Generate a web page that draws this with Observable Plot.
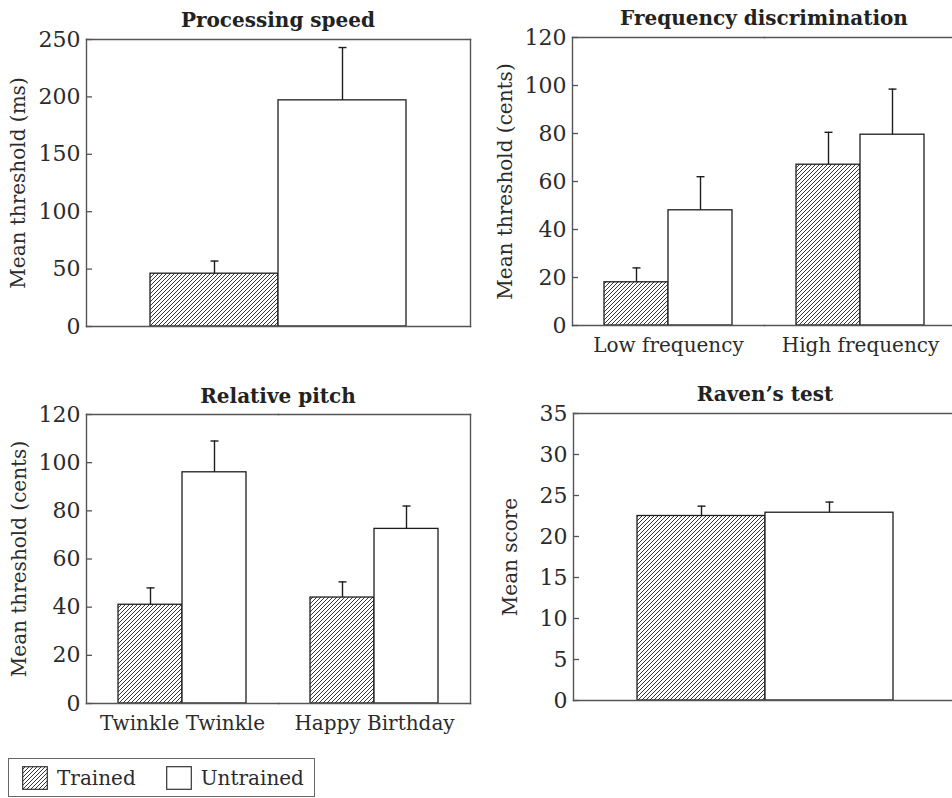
<!DOCTYPE html>
<html><head><meta charset="utf-8">
<script src="https://cdn.jsdelivr.net/npm/d3@7"></script>
<script src="https://cdn.jsdelivr.net/npm/@observablehq/plot@0.6"></script>
<style>
html,body{margin:0;padding:0;background:#fff;}
#chart{position:relative;width:952px;height:798px;overflow:hidden;background:#fff;font-family:"DejaVu Serif",serif;color:#2b2b2b;}
.panel{position:absolute;}
.panel svg{display:block;overflow:visible;max-width:none !important;}
.title{position:absolute;font-weight:bold;font-size:20px;line-height:20px;text-align:center;white-space:nowrap;color:#222;}
#legend{position:absolute;left:8px;top:758px;width:307px;height:39px;box-sizing:border-box;border:1.4px solid #666;display:flex;align-items:center;padding-left:13px;font-size:20px;}
#legend .item{display:flex;align-items:center;margin-right:30px;}
#legend svg{display:block;margin-right:9px;}
</style></head>
<body>
<svg width="0" height="0" style="position:absolute">
  <defs>
    <pattern id="hatch" patternUnits="userSpaceOnUse" width="4" height="4">
      <rect width="4" height="4" fill="#fff"></rect>
      <path d="M-1,1 l2,-2 M0,4 l4,-4 M3,5 l2,-2" stroke="#222" stroke-width="0.9"></path>
    </pattern>
  </defs>
</svg>
<div id="chart"></div>
<script>
// ---- data ----
const conditions = ["Trained", "Untrained"];

const speedGroups = ["Processing speed"];
const speedTrainedMean = [46];
const speedTrainedSE = [11];
const speedUntrainedMean = [197];
const speedUntrainedSE = [46];

const freqGroups = ["Low frequency", "High frequency"];
const freqTrainedMean = [18, 67];
const freqTrainedSE = [6, 13.5];
const freqUntrainedMean = [48, 79.5];
const freqUntrainedSE = [14, 19];

const pitchGroups = ["Twinkle Twinkle", "Happy Birthday"];
const pitchTrainedMean = [41, 44];
const pitchTrainedSE = [7, 6.5];
const pitchUntrainedMean = [96, 72.5];
const pitchUntrainedSE = [13, 9.5];

const ravenGroups = ["Raven’s test"];
const ravenTrainedMean = [22.5];
const ravenTrainedSE = [1.2];
const ravenUntrainedMean = [22.9];
const ravenUntrainedSE = [1.3];

const titles = ["Processing speed", "Frequency discrimination", "Relative pitch", "Raven’s test"];
const yLabels = ["Mean threshold (ms)", "Mean threshold (cents)", "Mean threshold (cents)", "Mean score"];
const yTicks250 = [0, 50, 100, 150, 200, 250];
const yTicks120 = [0, 20, 40, 60, 80, 100, 120];
const yTicks35 = [0, 5, 10, 15, 20, 25, 30, 35];

const fillRange = ["url(#hatch)", "#fff"];

const capSymbol = {
  draw(context, size) {
    const h = Math.sqrt(size / Math.PI);
    context.moveTo(-h, 0);
    context.lineTo(h, 0);
  }
};

function buildRows(groups, tm, ts, um, us) {
  return groups.flatMap((g, i) => [
    {group: g, condition: conditions[0], mean: tm[i], se: ts[i]},
    {group: g, condition: conditions[1], mean: um[i], se: us[i]}
  ]);
}

function panel(cfg) {
  const rows = buildRows(cfg.groups, cfg.tm, cfg.ts, cfg.um, cfg.us);
  const yTicks = cfg.ticks;
  const marks = [
    Plot.barY(rows, {fx: "group", x: "condition", y: "mean", fill: "condition", stroke: "#1e1e1e", strokeWidth: 1.3}),
    Plot.ruleX(rows, {fx: "group", x: "condition", y1: "mean", y2: d => d.mean + d.se, stroke: "#1e1e1e", strokeWidth: 1.4}),
    Plot.dot(rows, {fx: "group", x: "condition", y: d => d.mean + d.se, symbol: capSymbol, r: 4, stroke: "#1e1e1e", strokeWidth: 1.4, fill: "none"}),
    Plot.frame({anchor: "top", stroke: "#555", strokeWidth: 1.4}),
    Plot.frame({anchor: "bottom", stroke: "#555", strokeWidth: 1.4}),
    Plot.frame({anchor: "left", facetAnchor: "left", stroke: "#555", strokeWidth: 1.4}),
    Plot.frame({anchor: "right", facetAnchor: "right", stroke: "#555", strokeWidth: 1.4}),
    Plot.axisY({ticks: yTicks, tickSize: -6, tickPadding: 12, label: null, fontSize: 22, stroke: "#555", strokeWidth: 1.3, color: "#2b2b2b"}),
    Plot.axisY({ticks: [], tickSize: 0, label: cfg.yLabel, labelArrow: "none", labelAnchor: "center", labelOffset: cfg.labelOffset, fontSize: 20, color: "#2b2b2b"})
  ];
  if (cfg.showGroups) {
    marks.push(Plot.axisFx({anchor: "bottom", tickSize: 0, tickPadding: 12, label: null, fontSize: 20, color: "#2b2b2b"}));
  }
  const svg = Plot.plot({
    width: cfg.width, height: cfg.height,
    marginLeft: cfg.ml, marginRight: cfg.mr, marginTop: cfg.mt, marginBottom: cfg.mb,
    style: {fontFamily: "DejaVu Serif", background: "transparent", overflow: "visible", color: "#2b2b2b", maxWidth: "none"},
    fx: {domain: cfg.groups, padding: 0, axis: null, label: null},
    x: {domain: conditions, paddingInner: 0, paddingOuter: 0.5, axis: null},
    y: {domain: [0, yTicks[yTicks.length - 1]], axis: null},
    color: {domain: conditions, range: fillRange},
    marks
  });
  const div = document.createElement("div");
  div.className = "panel";
  div.style.left = cfg.left + "px";
  div.style.top = cfg.top + "px";
  div.style.width = cfg.width + "px";
  div.appendChild(svg);
  const t = document.createElement("div");
  t.className = "title";
  t.textContent = cfg.title;
  t.style.left = cfg.ml + "px";
  t.style.width = (cfg.width - cfg.ml - cfg.mr) + "px";
  t.style.top = cfg.titleTop + "px";
  div.appendChild(t);
  return div;
}

const chart = document.getElementById("chart");
chart.appendChild(panel({
  groups: speedGroups, tm: speedTrainedMean, ts: speedTrainedSE, um: speedUntrainedMean, us: speedUntrainedSE,
  ticks: yTicks250, yLabel: yLabels[0], title: titles[0], showGroups: false,
  left: 0, top: 0, width: 476, height: 356, ml: 86, mr: 6, mt: 39, mb: 30, titleTop: 10, labelOffset: 76
}));
chart.appendChild(panel({
  groups: freqGroups, tm: freqTrainedMean, ts: freqTrainedSE, um: freqUntrainedMean, us: freqUntrainedSE,
  ticks: yTicks120, yLabel: yLabels[1], title: titles[1], showGroups: true,
  left: 476, top: 0, width: 486, height: 365, ml: 96, mr: 6, mt: 37, mb: 40, titleTop: 8, labelOffset: 75
}));
chart.appendChild(panel({
  groups: pitchGroups, tm: pitchTrainedMean, ts: pitchTrainedSE, um: pitchUntrainedMean, us: pitchUntrainedSE,
  ticks: yTicks120, yLabel: yLabels[2], title: titles[2], showGroups: true,
  left: 0, top: 370, width: 476, height: 375, ml: 86, mr: 6, mt: 44, mb: 42, titleTop: 16, labelOffset: 75
}));
chart.appendChild(panel({
  groups: ravenGroups, tm: ravenTrainedMean, ts: ravenTrainedSE, um: ravenUntrainedMean, us: ravenUntrainedSE,
  ticks: yTicks35, yLabel: yLabels[3], title: titles[3], showGroups: false,
  left: 476, top: 370, width: 487, height: 360, ml: 97, mr: 6, mt: 43, mb: 30, titleTop: 14, labelOffset: 71
}));

// legend
const legend = document.createElement("div");
legend.id = "legend";
conditions.forEach((c, i) => {
  const item = document.createElement("div");
  item.className = "item";
  item.innerHTML = `<svg width="26" height="24"><rect x="0.7" y="0.7" width="24.6" height="22.6" fill="${fillRange[i]}" stroke="#333" stroke-width="1.2"></rect></svg><span>${c}</span>`;
  legend.appendChild(item);
});
chart.appendChild(legend);
</script>
</body></html>
